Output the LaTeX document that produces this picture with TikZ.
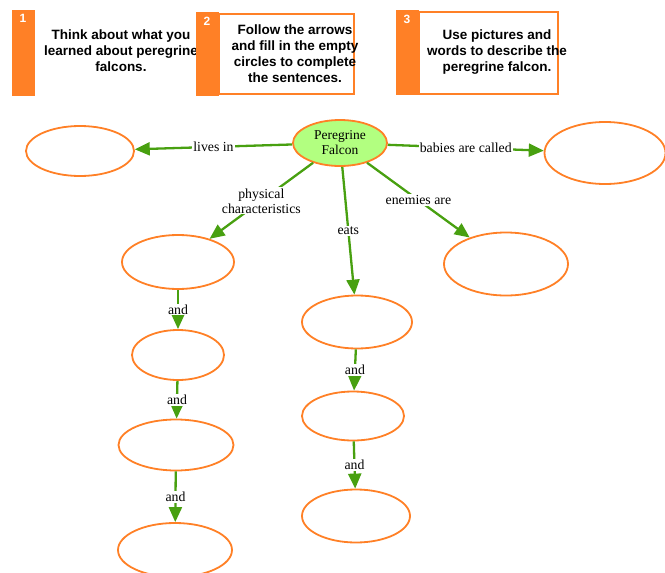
\documentclass[tikz,border=0pt]{standalone}
\usepackage{fontspec}
\setmainfont{Liberation Serif}
\newfontfamily\boxfont{Liberation Sans}
\usetikzlibrary{arrows.meta,shapes.geometric}
\definecolor{orng}{RGB}{255,128,38}
\definecolor{grn}{RGB}{72,160,16}
\definecolor{lgrn}{RGB}{178,255,128}
\tikzset{
  bubble/.style={draw=orng, line width=1.8pt, ellipse, inner sep=0pt, fill=white},
  conn/.style={draw=grn, line width=2.3pt, -{Triangle[width=13pt,length=15pt]}},
  lbl/.style={fill=white, inner sep=1pt, font=\fontsize{13.8}{15}\selectfont, align=center, midway},
  bar/.style={fill=orng, draw=none},
  frame/.style={draw=orng, line width=1.6pt, fill=white},
  btext/.style={font=\boxfont\bfseries\fontsize{13.5}{16}\selectfont, align=center},
  bnum/.style={font=\boxfont\bfseries\fontsize{12}{13}\selectfont, text=white}
}
\begin{document}
\begin{tikzpicture}[x=1pt,y=-1pt]
\useasboundingbox (0,0) rectangle (665,573);
% instruction boxes
\fill[bar] (12,10) rectangle (35,96);
\node[bnum] (n1) at (23,18) {1};
\node[btext] (t1) at (121,51) {Think about what you\\learned about peregrine\\falcons.};
\draw[frame] (219,14) rectangle (354,94);
\fill[bar] (196,12) rectangle (219,96);
\node[bnum] (n2) at (207,21) {2};
\node[btext] (t2) at (295,54) {Follow the arrows\\and fill in the empty\\circles to complete\\the sentences.};
\draw[frame] (419,12) rectangle (558,94);
\fill[bar] (396,10) rectangle (419,95);
\node[bnum] (n3) at (407,19) {3};
\node[btext] (t3) at (497,52) {Use pictures and\\words to describe the\\peregrine falcon.};
% nodes
\node[bubble, fill=lgrn, minimum width=94pt, minimum height=46pt, align=center,
      font=\fontsize{13.5}{15}\selectfont] (pf) at (340,143) {Peregrine\\Falcon};
\node[bubble, minimum width=108pt, minimum height=50pt] (live) at (80,151) {};
\node[bubble, minimum width=121pt, minimum height=62pt] (baby) at (605,153) {};
\node[bubble, minimum width=112pt, minimum height=54pt] (ph1) at (178,262) {};
\node[bubble, minimum width=92pt, minimum height=50pt] (ph2) at (178,355) {};
\node[bubble, minimum width=115pt, minimum height=51pt] (ph3) at (176,445) {};
\node[bubble, minimum width=114pt, minimum height=54pt] (ph4) at (175,550) {};
\node[bubble, minimum width=110pt, minimum height=53pt] (e1) at (357,322) {};
\node[bubble, minimum width=102pt, minimum height=49pt] (e2) at (353,416) {};
\node[bubble, minimum width=108pt, minimum height=53pt] (e3) at (356,516) {};
\node[bubble, minimum width=124pt, minimum height=63pt] (en) at (506,264) {};
% connectors
\draw[conn] (pf) -- node[lbl] (l1) {lives in} (live);
\draw[conn] (pf) -- node[lbl] (l2) {babies are called} (baby);
\draw[conn] (pf) -- node[lbl] (l3) {physical\\characteristics} (ph1);
\draw[conn] (pf) -- node[lbl] (l4) {eats} (e1);
\draw[conn] (pf) -- node[lbl] (l5) {enemies are} (en);
\draw[conn] (ph1) -- node[lbl] (l6) {and} (ph2);
\draw[conn] (ph2) -- node[lbl] (l7) {and} (ph3);
\draw[conn] (ph3) -- node[lbl] (l8) {and} (ph4);
\draw[conn] (e1) -- node[lbl] (l9) {and} (e2);
\draw[conn] (e2) -- node[lbl] (l10) {and} (e3);
\end{tikzpicture}
\end{document}
